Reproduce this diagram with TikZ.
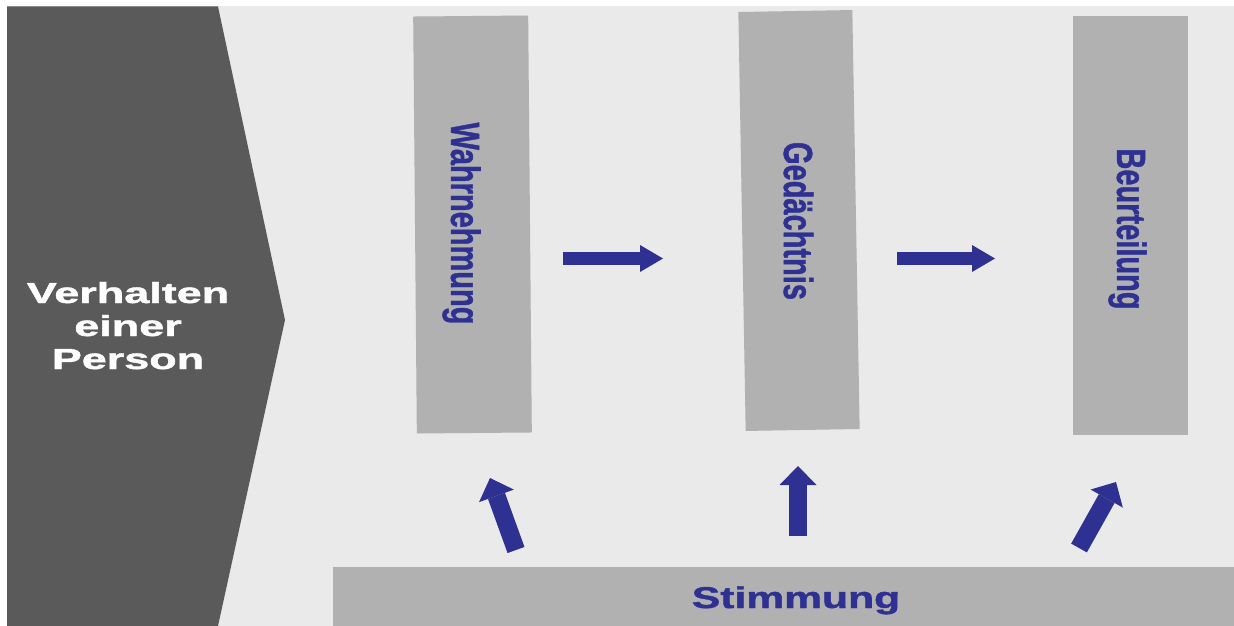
\documentclass[tikz,border=0pt]{standalone}
\usepackage{fontspec}
\setmainfont{Liberation Sans}
\newfontfamily\heavyfont{Liberation Sans}[BoldFeatures={FakeBold=1.3}]
\usetikzlibrary{arrows.meta}
\definecolor{bgc}{HTML}{EAEAEA}
\definecolor{darkc}{HTML}{5A5A5A}
\definecolor{barc}{HTML}{B1B1B1}
\definecolor{bluec}{HTML}{2E3192}
\begin{document}
\begin{tikzpicture}[x=1pt,y=-1pt,
  bar/.style={fill=barc, draw=none, inner sep=0pt},
  vtext/.style={text=bluec, font=\heavyfont\bfseries\fontsize{29}{29}\selectfont, inner sep=0pt, rotate=-90},
  ltext/.style={text=white, font=\heavyfont\bfseries\fontsize{29}{29}\selectfont, inner sep=0pt, anchor=base},
  harrow/.style={draw=bluec, line width=13pt, -{Triangle[length=23pt,width=27pt,line width=0pt]}},
  varrow/.style={draw=bluec, line width=18pt, -{Triangle[length=19pt,width=37pt,line width=0pt]}}]
\useasboundingbox (0,0) rectangle (1234,626);
\fill[white] (0,0) rectangle (1234,626);
\fill[bgc] (6.5,6.5) rectangle (1234,626);
% chevron
\fill[darkc] (7,6.5) -- (218,6.5) -- (285,320) -- (218,626) -- (7,626) -- cycle;
\node[ltext] (v1) at (128,303) {\scalebox{1.55}[1]{Verhalten}};
\node[ltext] (v2) at (128,336) {\scalebox{1.55}[1]{einer}};
\node[ltext] (v3) at (128,369) {\scalebox{1.55}[1]{Person}};
% bars
\node[bar, minimum width=115pt, minimum height=417pt, rotate=0.5] (W) at (472.5,224.5) {};
\node[bar, minimum width=114pt, minimum height=419pt, rotate=1] (G) at (799,220.5) {};
\node[bar, minimum width=115pt, minimum height=419pt] (B) at (1130.5,225.5) {};
\node[bar, minimum width=901pt, minimum height=59pt] (S) at (783.5,596.5) {};
\node[vtext] (tW) at (461.5,223.5) {\scalebox{1}[1.4]{Wahrnehmung}};
\node[vtext] (tG) at (798.5,221) {\scalebox{1}[1.4]{Gedächtnis}};
\node[vtext] (tB) at (1127.5,229) {\scalebox{1}[1.4]{Beurteilung}};
\node[text=bluec, font=\heavyfont\bfseries\fontsize{30}{30}\selectfont, inner sep=0pt, anchor=base] (tS) at (796,608) {\scalebox{1.42}[1]{Stimmung}};
% arrow ends
\coordinate (h1s) at (563,258.5);
\coordinate (h1e) at (663,258.5);
\coordinate (h2s) at (897,258.5);
\coordinate (h2e) at (995,258.5);
\coordinate (u1s) at (516,550);
\coordinate (u1e) at (490,478);
\coordinate (u2s) at (798,536);
\coordinate (u2e) at (798,466);
\coordinate (u3s) at (1079,548);
\coordinate (u3e) at (1116,482);
\draw[harrow] (h1s) -- (h1e);
\draw[harrow] (h2s) -- (h2e);
\draw[varrow] (u1s) -- (u1e);
\draw[varrow] (u2s) -- (u2e);
\draw[varrow] (u3s) -- (u3e);
\end{tikzpicture}
\end{document}
